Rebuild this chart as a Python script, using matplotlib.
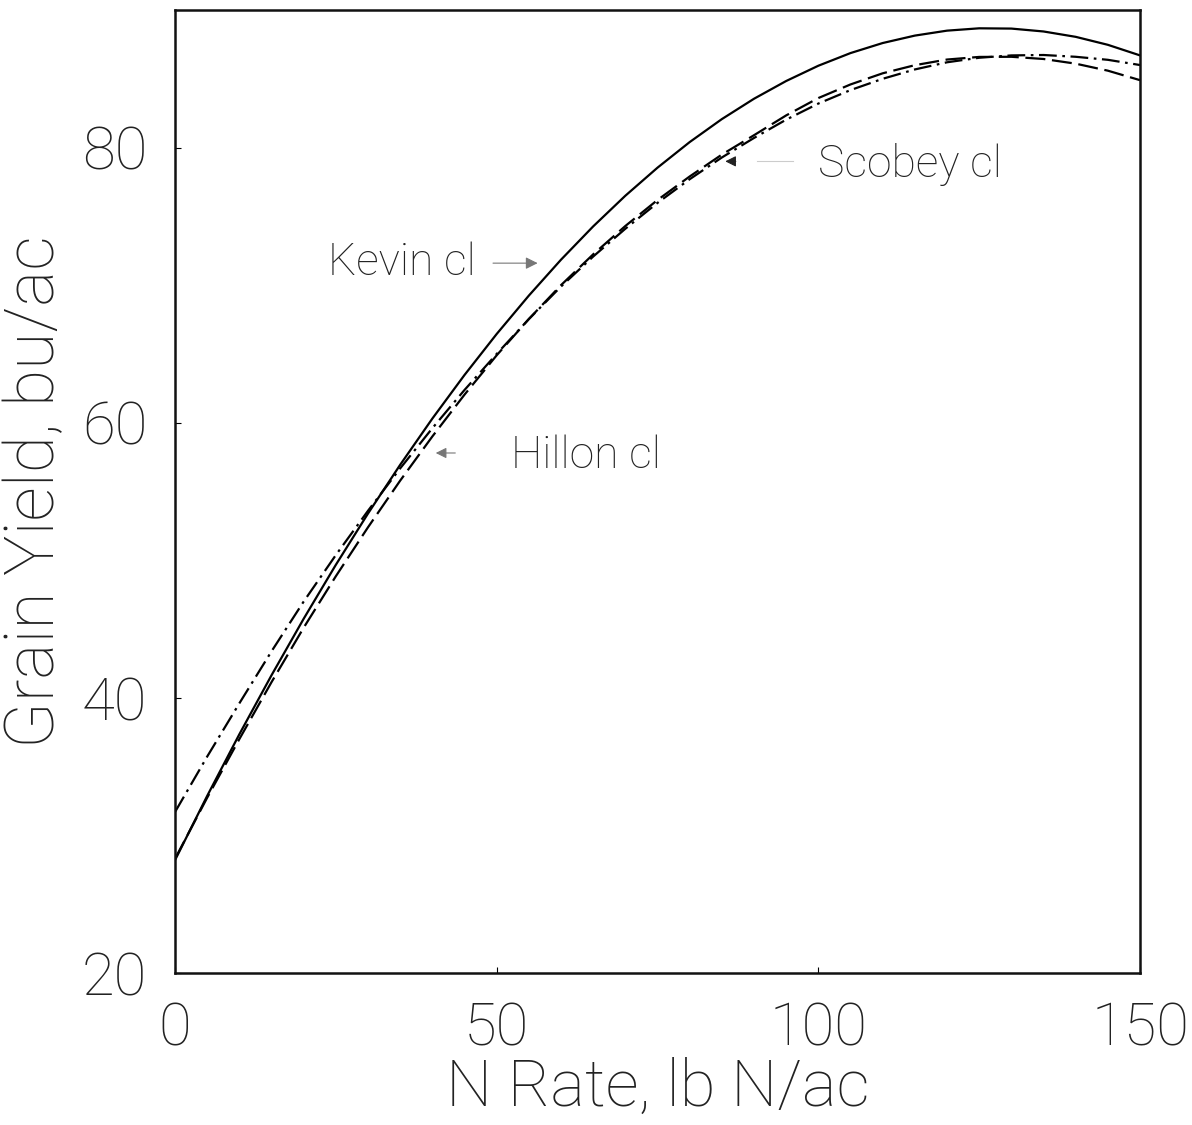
import numpy as np
import matplotlib
matplotlib.use("Agg")
import matplotlib.pyplot as plt

# N rate response of three cultivars (grain yield, bu/ac)
n_rate = [0, 5, 10, 15, 20, 25, 30, 35, 40, 45, 50, 55, 60, 65, 70, 75,
          80, 85, 90, 95, 100, 105, 110, 115, 120, 125, 130, 135, 140, 145, 150]
kevin = [28.2, 32.87, 37.35, 41.64, 45.75, 49.67, 53.4, 56.94, 60.3, 63.47,
         66.45, 69.24, 71.85, 74.27, 76.5, 78.54, 80.4, 82.07, 83.55, 84.84,
         85.95, 86.87, 87.6, 88.14, 88.5, 88.67, 88.65, 88.44, 88.05, 87.47, 86.7]
hillon = [28.3, 32.74, 37.0, 41.14, 45.1, 48.84, 52.4, 55.79, 59.0, 62.04,
          64.9, 67.54, 70.0, 72.24, 74.3, 76.19, 77.9, 79.49, 80.9, 82.34,
          83.6, 84.59, 85.4, 85.99, 86.4, 86.59, 86.6, 86.44, 86.1, 85.59, 84.9]
scobey = [31.7, 35.73, 39.6, 43.38, 47.0, 50.38, 53.6, 56.68, 59.6, 62.38,
          65.0, 67.53, 69.9, 72.08, 74.1, 75.98, 77.7, 79.28, 80.7, 82.03,
          83.2, 84.18, 85.0, 85.68, 86.2, 86.53, 86.7, 86.73, 86.6, 86.38, 86.0]

x_ticks = [0, 50, 100, 150]
y_ticks = [20, 40, 60, 80]

plt.rcParams['font.family'] = ['Roboto', 'DejaVu Sans']
plt.rcParams['font.weight'] = 'light'
plt.rcParams['axes.labelweight'] = 'light'
ink = "#222222"

fig = plt.figure(figsize=(11.92, 11.25), dpi=100)
ax = fig.add_axes([0.1468, 0.1351, 0.8096, 0.856])

ax.plot(n_rate, kevin, color="black", lw=1.6, ls="-")
ax.plot(n_rate, hillon, color="black", lw=1.6, ls=(0, (9, 3)))
ax.plot(n_rate, scobey, color="black", lw=1.6, ls=(0, (8, 2.5, 1.2, 2.5)))

ax.set_xlim(0, 150)
ax.set_ylim(20, 90)
ax.set_xticks(x_ticks)
ax.set_yticks(y_ticks)
ax.tick_params(direction="in", length=4, width=0.8, labelsize=43,
               labelcolor=ink, pad=20)
for side in ax.spines.values():
    side.set_linewidth(1.8)
    side.set_color("#111111")

ax.set_xlabel("N Rate, lb N/ac", fontsize=47, color=ink, labelpad=0)
ax.set_ylabel("Grain Yield, bu/ac", fontsize=49, color=ink, labelpad=10)

# cultivar labels with pointer arrows
lab = dict(fontsize=32, color=ink, va="center", ha="left")
ax.text(23.8, 71.6, "Kevin cl", **lab)
ax.annotate("", xy=(56.8, 71.6), xytext=(49.0, 71.6),
            arrowprops=dict(arrowstyle="-|>", color="#777777", lw=0.8,
                            mutation_scale=18))
ax.text(52.3, 57.6, "Hillon cl", **lab)
ax.annotate("", xy=(40.1, 57.8), xytext=(44.0, 57.8),
            arrowprops=dict(arrowstyle="-|>", color="#777777", lw=0.8,
                            mutation_scale=16))
ax.text(100.0, 78.8, "Scobey cl", **lab)
ax.plot([90.5, 96.1], [79.0, 79.0], color="#cccccc", lw=0.8)
ax.annotate("", xy=(85.1, 79.0), xytext=(87.6, 79.0),
            arrowprops=dict(arrowstyle="-|>", color="#222222", lw=0.8,
                            mutation_scale=16))

fig.savefig("out.png", dpi=100, facecolor="white")
